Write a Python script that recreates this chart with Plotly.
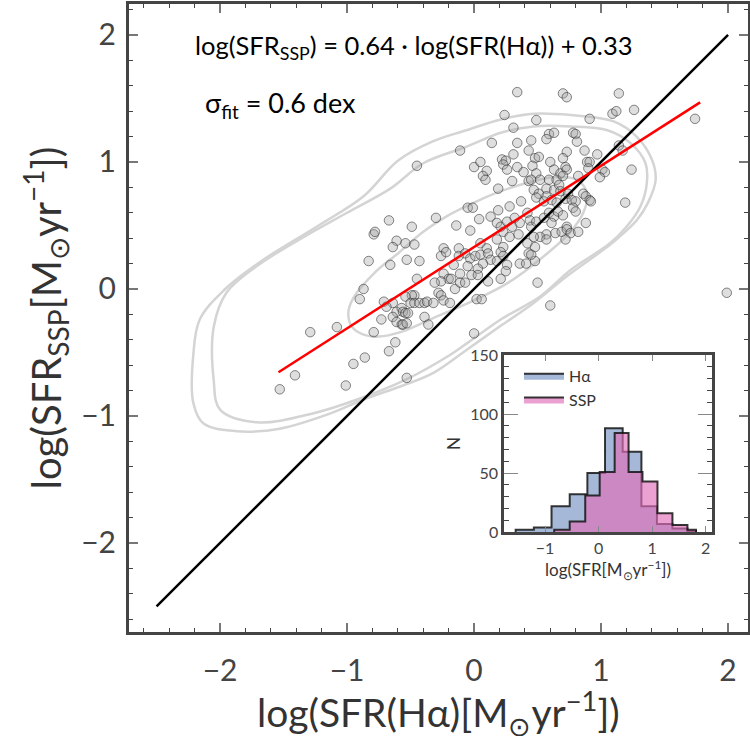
import plotly.graph_objects as go

# ---------------- data ----------------
# scatter: log SFR(Halpha) vs log SFR_SSP
sfr_ha = [
    -0.67, -0.79, -0.78, -0.61, -0.64, -0.83, -0.66, -0.87, -0.90, -0.71, -0.64, -0.61, -0.64,
    -0.61, -0.73, -0.79, -0.62, -0.67, -1.29, -1.08, -0.86, -0.95, -1.01, -1.41, -1.53, -0.69,
    0.34, 0.70, 0.73, 0.24, 0.49, 0.31, 0.59, 0.63, 0.57, 0.14, 0.34, 0.45, -0.11, 0.43, 0.73,
    0.31, 0.48, 0.51, 0.70, -0.45, 0.00, 0.05, 0.10, 0.07, 0.09, 0.22, 0.25, 0.23, 0.26, 0.34,
    0.39, 0.46, 0.49, 0.60, 0.63, 0.68, 0.72, 0.73, 0.30, 0.19, 0.43, 0.45, 0.52, 0.59, 0.65,
    0.70, 0.28, 0.37, 0.47, 0.51, 0.57, 0.63, 0.67, 0.68, 0.49, 0.55, 0.57, 0.61, 0.65, 0.72,
    0.74, -0.05, -0.01, -0.30, -0.14, -0.03, 0.04, 0.13, 0.19, 0.18, 0.21, 0.23, 0.26, 0.30,
    0.32, 0.36, 0.42, 0.44, 0.45, 0.49, 0.55, 0.59, 0.63, 0.66, 0.70, 0.73, 0.61, 0.57, 0.52,
    -0.49, -0.54, -0.47, -0.24, -0.12, 0.05, 0.10, 0.18, 0.23, 0.28, 0.35, 0.42, 0.48, 0.47,
    0.57, 0.64, 0.69, 0.73, 0.76, 0.72,
    -0.53, -0.43, -0.26, -0.22, -0.12, -0.07, -0.03, 0.01, 0.05, 0.11, 0.13, 0.21, 0.23, 0.26,
    0.25, 0.18, 0.07, 0.03, -0.05, -0.11, -0.16, -0.24, -0.20, -0.18, -0.26, -0.31, -0.15, -0.11,
    -0.07, -0.02, 0.03, 0.11, 0.21, 0.36, 0.41, 0.43, 0.48, 0.45, 0.50, 0.60, 0.02, 0.06, -0.45,
    -0.47, -0.49, -0.54, -0.50, -0.47, -0.43, -0.39, -0.37, -0.32, -0.28, -0.26, -0.24, -0.19,
    -0.57, -0.56, -0.54, -0.52, -0.57, -0.56, -0.53, -0.39, -0.36, 0.00, -0.53,
    1.14, 1.09, 1.12, 1.26, 1.74, 0.91, 0.78, 0.80, 0.81, 0.87, 0.97, 1.14, 1.17, 1.24, 0.89,
    0.91, 0.90, 1.01, 1.03, 0.99, 0.82, 0.86, 0.88, 0.91, 0.92, 0.77, 0.80, 0.78, 0.80, 1.19,
    0.88, 0.82, 1.99,
]
sfr_ssp = [
    0.54, 0.43, 0.45, 0.38, 0.33, 0.22, 0.19, 0.00, -0.08, -0.10, -0.11, -0.18, -0.22,
    -0.26, -0.24, -0.34, -0.42, -0.49, -0.34, -0.30, -0.54, -0.59, -0.76, -0.68, -0.79, -0.14,
    1.55, 1.54, 1.51, 1.37, 1.33, 1.27, 1.22, 1.23, 1.18, 1.15, 1.15, 1.17, 1.09, 1.09, 1.08,
    1.06, 1.03, 1.04, 1.03, 0.97, 0.96, 1.00, 0.93, 0.89, 0.86, 1.02, 1.01, 0.98, 0.94, 0.96,
    0.92, 0.97, 0.91, 1.00, 0.94, 0.91, 0.96, 0.94, 0.85, 0.79, 0.85, 0.86, 0.86, 0.86, 0.86,
    0.89, 0.65, 0.69, 0.78, 0.75, 0.79, 0.78, 0.82, 0.77, 0.72, 0.69, 0.73, 0.70, 0.68, 0.71,
    0.75, 0.64, 0.64, 0.56, 0.50, 0.46, 0.55, 0.57, 0.62, 0.52, 0.49, 0.45, 0.53, 0.49,
    0.56, 0.52, 0.60, 0.54, 0.49, 0.53, 0.56, 0.60, 0.57, 0.61, 0.58, 0.49, 0.52, 0.43, 0.41,
    0.49, 0.36, 0.35, 0.32, 0.32, 0.36, 0.32, 0.39, 0.33, 0.41, 0.43, 0.36, 0.33, 0.41,
    0.39, 0.44, 0.45, 0.47, 0.44, 0.39,
    0.23, 0.22, 0.26, 0.29, 0.26, 0.28, 0.24, 0.26, 0.27, 0.28, 0.23, 0.29, 0.26, 0.19,
    0.14, 0.22, 0.20, 0.16, 0.18, 0.12, 0.19, 0.12, 0.08, 0.08, 0.06, 0.05, 0.00, 0.05,
    0.05, 0.11, 0.11, 0.06, 0.08, 0.20, 0.20, 0.28, 0.22, 0.27, 0.05, -0.13, -0.08, -0.08, 0.08,
    -0.05, -0.05, -0.06, -0.11, -0.11, -0.11, -0.11, -0.10, -0.11, -0.03, -0.05, -0.09, -0.11,
    -0.15, -0.18, -0.19, -0.19, -0.28, -0.28, -0.27, -0.22, -0.28, -0.35, -0.70,
    1.54, 1.38, 1.40, 1.41, 1.34, 1.34, 1.23, 1.22, 1.16, 1.09, 1.06, 1.13, 1.09, 0.94, 1.00,
    1.00, 0.95, 0.94, 0.92, 0.88, 0.89, 0.75, 0.73, 0.70, 0.69, 0.70, 0.69, 0.64, 0.61, 0.68,
    0.52, 0.45, -0.03,
]

# density contours (three levels)
contour_1_x = [0.76, 0.47, 0.21, -0.06, -0.33, -0.60, -0.87, -1.24, -1.66, -1.97, -2.16, -2.21,
               -2.21, -2.13, -1.87, -1.53, -1.13, -0.87, -0.56, -0.32, -0.06, 0.21, 0.47, 0.73,
               1.02, 1.12, 1.28, 1.37, 1.43, 1.40, 1.28, 1.10, 0.76]
contour_1_y = [1.37, 1.38, 1.335, 1.25, 1.16, 1.01, 0.73, 0.49, 0.23, -0.01, -0.24, -0.51,
               -0.90, -1.06, -1.12, -1.10, -0.98, -0.87, -0.76, -0.66, -0.48, -0.29, -0.11, 0.10,
               0.31, 0.39, 0.54, 0.68, 0.86, 1.02, 1.20, 1.32, 1.37]
contour_2_x = [0.76, 0.47, 0.21, -0.06, -0.40, -0.66, -1.00, -1.34, -1.71, -1.95, -2.05, -2.05,
               -2.00, -1.71, -1.27, -0.92, -0.55, -0.19, 0.21, 0.52, 0.76, 1.07, 1.20, 1.31,
               1.36, 1.35, 1.23, 1.05, 0.76]
contour_2_y = [1.28, 1.28, 1.23, 1.12, 0.99, 0.79, 0.60, 0.41, 0.18, -0.03, -0.30, -0.72,
               -0.95, -1.05, -0.98, -0.87, -0.72, -0.52, -0.24, -0.06, 0.15, 0.36, 0.49, 0.65,
               0.83, 0.99, 1.15, 1.25, 1.28]
contour_3_x = [0.21, 0.40, 0.62, 0.81, 0.89, 0.86, 0.75, 0.54, 0.27, 0.00, -0.30, -0.58,
               -0.75, -0.87, -0.96, -0.99, -0.95, -0.78, -0.60, -0.40, -0.22, 0.00, 0.21]
contour_3_y = [0.77, 0.83, 0.88, 0.86, 0.75, 0.60, 0.44, 0.25, 0.05, -0.09, -0.22, -0.34,
               -0.375, -0.36, -0.30, -0.19, -0.07, 0.13, 0.28, 0.45, 0.57, 0.68, 0.77]

# one-to-one line and fit
one_to_one = [-2.5, 2.0]
fit_slope, fit_intercept = 0.64, 0.33
fit_x_range = [-1.54, 1.78]

# inset histograms (step-filled)
ha_edges = [-1.55, -1.21, -0.88, -0.54, -0.21, 0.12, 0.45, 0.80, 1.09, 1.38, 1.66, 1.82]
ha_counts = [2, 4, 22, 32, 50, 88, 68, 22, 7, 3, 1]
ssp_edges = [-0.83, -0.54, -0.25, 0.02, 0.30, 0.56, 0.82, 1.10, 1.38, 1.66, 1.82]
ssp_counts = [2, 9, 31, 51, 84, 51, 43, 16, 6, 2]

FONT = "Lato"


def step_xy(edges, counts):
    xs = [edges[0]] + list(edges) + [edges[-1]]
    ys = [0] + list(counts) + [counts[-1], 0]
    return xs, ys


fig = go.Figure()

for cx, cy in [(contour_1_x, contour_1_y), (contour_2_x, contour_2_y), (contour_3_x, contour_3_y)]:
    fig.add_trace(go.Scatter(x=cx, y=cy, mode="lines",
                             line=dict(color="#d4d4d4", width=2.5, shape="spline", smoothing=1.0),
                             showlegend=False, hoverinfo="skip", xaxis="x", yaxis="y"))

fig.add_trace(go.Scatter(x=sfr_ha, y=sfr_ssp, mode="markers",
                         marker=dict(size=9.5, color="rgba(160,160,160,0.35)",
                                     line=dict(color="rgba(40,40,40,0.55)", width=1)),
                         showlegend=False, xaxis="x", yaxis="y"))

fig.add_trace(go.Scatter(x=one_to_one, y=one_to_one, mode="lines", line=dict(color="black", width=2.5),
                         showlegend=False, xaxis="x", yaxis="y"))
fit_y = [fit_slope * v + fit_intercept for v in fit_x_range]
fig.add_trace(go.Scatter(x=fit_x_range, y=fit_y, mode="lines", line=dict(color="#ff0000", width=2.5),
                         showlegend=False, xaxis="x", yaxis="y"))

hx, hy = step_xy(ha_edges, ha_counts)
fig.add_trace(go.Scatter(x=hx, y=hy, mode="lines",
                         line=dict(color="rgba(20,20,20,0.85)", width=2, shape="hv"),
                         fill="tozeroy", fillcolor="rgba(76,114,176,0.5)", name="Hα",
                         xaxis="x2", yaxis="y2"))
sx, sy = step_xy(ssp_edges, ssp_counts)
fig.add_trace(go.Scatter(x=sx, y=sy, mode="lines",
                         line=dict(color="rgba(20,20,20,0.85)", width=2, shape="hv"),
                         fill="tozeroy", fillcolor="rgba(225,110,185,0.65)", name="SSP",
                         xaxis="x2", yaxis="y2"))

axis_common = dict(showgrid=False, zeroline=False, showline=True, linecolor="#444", mirror="allticks",
                   ticks="inside", automargin=False)

fig.update_layout(
    width=750, height=736,
    margin=dict(l=129, r=2, t=4, b=104),
    paper_bgcolor="white", plot_bgcolor="white",
    font=dict(family=FONT, color="#333"),
    xaxis=dict(axis_common, domain=[0, 1], range=[-2.717, 2.157], tickvals=[-2, -1, 0, 1, 2],
               ticklen=9, tickwidth=1.5, tickcolor="#777", linewidth=3, ticklabelstandoff=10,
               minor=dict(dtick=0.2, ticks="inside", ticklen=4, tickcolor="#444", tickwidth=1.2),
               tickfont=dict(size=30, color="#444", family=FONT)),
    yaxis=dict(axis_common, domain=[0, 1], range=[-2.701, 2.244], tickvals=[-2, -1, 0, 1, 2],
               ticklen=9, tickwidth=1.5, tickcolor="#777", linewidth=3, ticklabelstandoff=4,
               minor=dict(dtick=0.2, ticks="inside", ticklen=4, tickcolor="#444", tickwidth=1.2),
               tickfont=dict(size=30, color="#444", family=FONT),
               title=dict(text="log(SFR<sub>SSP</sub>[M<sub>⊙</sub>yr<sup>−1</sup>])",
                          font=dict(size=40, color="#333", family=FONT), standoff=8)),
    xaxis2=dict(axis_common, domain=[0.606, 0.942], anchor="y2", range=[-1.766, 2.121],
                tickvals=[-1, 0, 1, 2],
                ticklen=6, tickwidth=1.2, tickcolor="#888", linewidth=2.5,
                tickfont=dict(size=16, color="#444", family=FONT),
                title=dict(text="log(SFR[M<sub>⊙</sub>yr<sup>−1</sup>])",
                           font=dict(size=17, color="#333", family=FONT), standoff=6)),
    yaxis2=dict(axis_common, domain=[0.159, 0.441], anchor="x2", range=[0, 150],
                tickvals=[0, 50, 100, 150],
                ticklen=14, tickwidth=1.2, tickcolor="#888", linewidth=2.5,
                minor=dict(dtick=10, ticks="inside", ticklen=5, tickcolor="#444", tickwidth=1),
                tickfont=dict(size=16, color="#444", family=FONT),
                title=dict(text="N", font=dict(size=17, color="#333", family=FONT), standoff=6)),
    legend=dict(x=0.63, y=0.435, xanchor="left", yanchor="top", bgcolor="rgba(0,0,0,0)",
                font=dict(size=16, color="#333", family=FONT), itemwidth=40, tracegroupgap=4),
    annotations=[
        dict(text="log(SFR(Hα)[M<sub>⊙</sub>yr<sup>−1</sup>])", x=0.5, y=-0.129,
             xref="paper", yref="paper", xanchor="center", yanchor="middle", showarrow=False,
             font=dict(size=39, color="#333", family=FONT)),
        dict(text="log(SFR<sub>SSP</sub>) = 0.64 · log(SFR(Hα)) + 0.33", x=0.103, y=0.932,
             xref="paper", yref="paper", xanchor="left", yanchor="middle", showarrow=False,
             font=dict(size=25.5, color="black", family=FONT)),
        dict(text="σ<sub>fit</sub> = 0.6 dex", x=0.12, y=0.84, xref="paper", yref="paper",
             xanchor="left", yanchor="middle", showarrow=False,
             font=dict(size=27, color="black", family=FONT)),
    ],
)

fig.write_html("out.html", config={"displayModeBar": False},
               post_script="document.body.style.margin='0px';")
